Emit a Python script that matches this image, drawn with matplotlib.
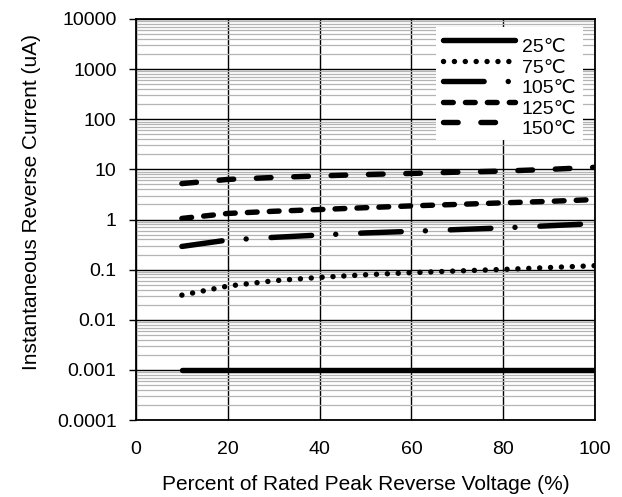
import matplotlib.pyplot as plt
from matplotlib.ticker import FixedLocator, NullFormatter
import numpy as np

plt.rcParams['font.family'] = ['Liberation Sans', 'DejaVu Sans']

# Datos
voltaje = [10, 20, 30, 40, 50, 60, 70, 80, 90, 100]
i_25 = [0.001] * 10
i_75 = [0.031, 0.047, 0.060, 0.070, 0.079, 0.087, 0.094, 0.101, 0.110, 0.120]
i_105 = [0.29, 0.39, 0.44, 0.49, 0.54, 0.58, 0.63, 0.68, 0.75, 0.83]
i_125 = [1.05, 1.32, 1.46, 1.58, 1.72, 1.87, 2.0, 2.15, 2.3, 2.5]
i_150 = [5.2, 6.3, 6.9, 7.4, 7.9, 8.3, 8.8, 9.25, 10.0, 11.0]
etiquetas = ['25℃', '75℃', '105℃', '125℃', '150℃']
y_ticks = [0.0001, 0.001, 0.01, 0.1, 1, 10, 100, 1000, 10000]
y_labels = ['0.0001', '0.001', '0.01', '0.1', '1', '10', '100', '1000', '10000']
x_ticks = [0, 20, 40, 60, 80, 100]

fig = plt.figure(figsize=(6.22, 4.97), dpi=100)
ax = fig.add_axes([0.2186, 0.1549, 0.738, 0.8069])

lw = 3.9
estilos = [
    '-',
    (0, (0.01, 2.0)),
    (0, (7.5, 4.45, 0.01, 4.6)),
    (0, (1.8, 2.25)),
    (0, (2.7, 4.2)),
]
series = [i_25, i_75, i_105, i_125, i_150]
for serie, estilo, etiqueta in zip(series, estilos, etiquetas):
    ax.plot(voltaje, serie, color='black', lw=lw, linestyle=estilo,
            dash_capstyle='round', solid_capstyle='round', label=etiqueta, zorder=3)

ax.set_yscale('log')
ax.set_xlim(0, 100)
ax.set_ylim(0.0001, 10000)
ax.set_yticks(y_ticks)
ax.set_yticklabels(y_labels)
minors = [m * 10.0 ** e for e in range(-4, 4) for m in range(2, 10)]
ax.yaxis.set_minor_locator(FixedLocator(minors))
ax.yaxis.set_minor_formatter(NullFormatter())
ax.set_xticks(x_ticks)

ax.grid(which='minor', axis='y', color='#b4b4b4', lw=0.9, zorder=0)
ax.grid(which='major', color='black', lw=1.0, zorder=1)
ax.set_axisbelow(True)
for s in ax.spines.values():
    s.set_linewidth(1.3)

ax.tick_params(axis='y', which='major', length=5, width=1, labelsize=14, pad=9)
ax.tick_params(axis='y', which='minor', length=0)
ax.tick_params(axis='x', length=0, labelsize=14, pad=15)

ax.set_ylabel('Instantaneous Reverse Current (uA)', fontsize=15)
ax.yaxis.set_label_coords(-0.207, 0.544)
ax.set_xlabel('Percent of Rated Peak Reverse Voltage (%)', fontsize=15, labelpad=12)

leg = ax.legend(loc='upper right', bbox_to_anchor=(0.974, 0.981), fontsize=14,
                frameon=True, fancybox=False, framealpha=1, edgecolor='white',
                handlelength=3.7, labelspacing=0.15, handletextpad=0.35,
                borderpad=0.35, borderaxespad=0)
leg.get_frame().set_linewidth(0)
leg.set_zorder(5)
# Las etiquetas de la leyenda quedan un poco mas abajo que las lineas
for t in leg.get_texts():
    t.set_y(-5)

plt.savefig('out.png', dpi=100)
plt.close()
